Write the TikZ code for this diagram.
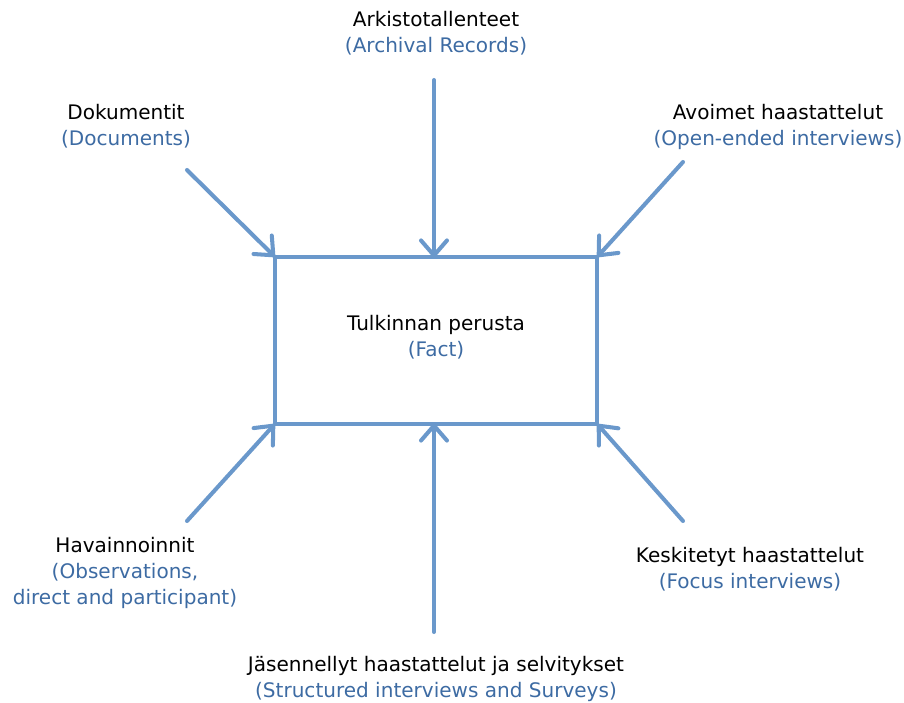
\documentclass[tikz,border=0pt]{standalone}
\usepackage{fontspec}
\setmainfont{DejaVu Sans}
\usetikzlibrary{arrows.meta}
\definecolor{lineblue}{HTML}{6A98CB}
\definecolor{txtblue}{HTML}{3D6BA3}

\begin{document}
\begin{tikzpicture}[
      x=0.02cm, y=-0.02cm,
      every node/.style={font=\fontsize{11.4}{14.8}\selectfont, align=center, inner sep=0pt},
      feed/.style={-{Straight Barb[length=0.3cm, width=0.52cm, line cap=round]}, line width=2.3pt, lineblue, line cap=round, shorten >=-2pt},
    ]
    \useasboundingbox (0,0) rectangle (904,703);

    % central box
    \node[draw=lineblue, line width=2.3pt, minimum width=6.44cm, minimum height=3.34cm] (fact) at (436,340.5) {};
    \node (factlbl) at (436,337.5) {Tulkinnan perusta\\\textcolor{txtblue}{(Fact)}};

    % sources
    \node (arch) at (436,33.5) {Arkistotallenteet\\\textcolor{txtblue}{(Archival Records)}};
    \node (docs) at (126,126.5) {Dokumentit\\\textcolor{txtblue}{(Documents)}};
    \node (open) at (778,126.5) {Avoimet haastattelut\\\textcolor{txtblue}{(Open-ended interviews)}};
    \node (obs) at (125,573) {Havainnoinnit\\\textcolor{txtblue}{(Observations,}\\\textcolor{txtblue}{direct and participant)}};
    \node (focus) at (750,569.5) {Keskitetyt haastattelut\\\textcolor{txtblue}{(Focus interviews)}};
    \node (surv) at (436,678.5) {J\"asennellyt haastattelut ja selvitykset\\\textcolor{txtblue}{(Structured interviews and Surveys)}};

    % arrow tails
    \coordinate (archt) at (434,80);
    \coordinate (docst) at (187,170);
    \coordinate (opent) at (683,162);
    \coordinate (obst) at (187,521);
    \coordinate (focust) at (683,521);
    \coordinate (survt) at (434,632);

    % arrows
    \draw[feed] (archt) -- (fact.north -| archt);
    \draw[feed] (docst) -- (fact.north west);
    \draw[feed] (opent) -- (fact.north east);
    \draw[feed] (obst) -- (fact.south west);
    \draw[feed] (focust) -- (fact.south east);
    \draw[feed] (survt) -- (fact.south -| survt);
  \end{tikzpicture}
\end{document}
